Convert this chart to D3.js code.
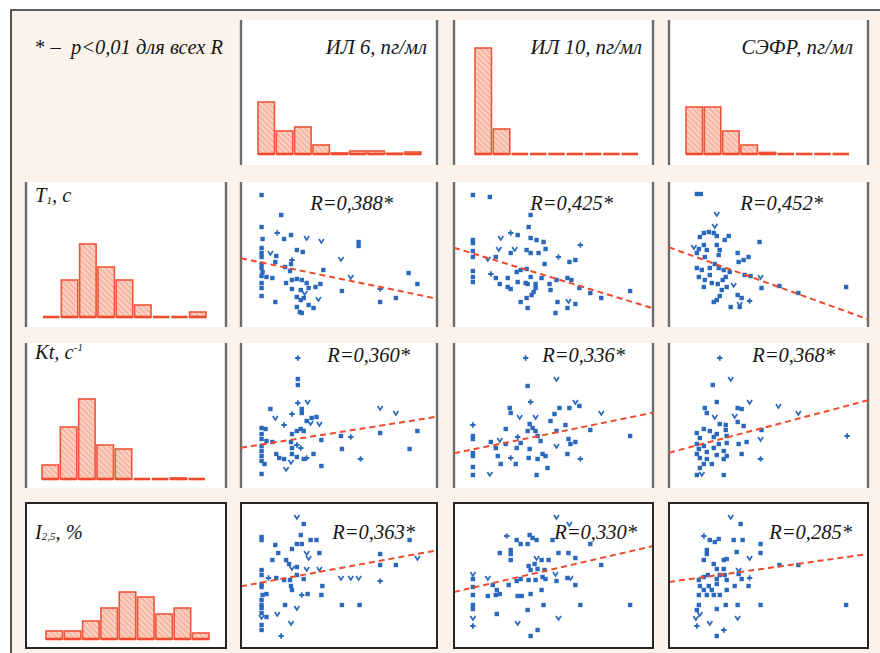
<!DOCTYPE html>
<html><head><meta charset="utf-8">
<script src="https://cdn.jsdelivr.net/npm/d3@7"></script>
<style>html,body{margin:0;background:#fff;overflow:hidden}svg{display:block;overflow:hidden}</style>
</head><body><svg id="c" width="880" height="653"></svg>
<script>
// ---------------- DATA ----------------
const xVarLabels = ["ИЛ 6, пг/мл", "ИЛ 10, пг/мл", "СЭФР, пг/мл"];
const noteLabel = ["* –  ", "p<0,01 для всех R"];
const binIndex = [0, 1, 2, 3, 4, 5, 6, 7, 8];
// histogram frequencies (relative units) per variable
const histIL6  = [26, 11.5, 13.5, 4.5, 0.5, 1.5, 1.5, 0.3, 1];
const histIL10 = [53, 12.5, 0, 0, 0, 0, 0, 0, 0];
const histSEFR = [23.5, 23.5, 11.5, 4.5, 0.8, 0, 0, 0, 0];
const histT1   = [0, 18.5, 36.5, 25, 18.5, 6, 0, 0, 2.5];
const histKt   = [7, 26, 40, 17, 15, 0, 0, 0.5, 0];
const histI25  = [4, 4, 9, 15.5, 23.5, 21, 12.5, 15.5, 3];
const rValues = [["0,388", "0,425", "0,452"], ["0,360", "0,336", "0,368"], ["0,363", "0,330", "0,285"]];
// scatter points [x, y, marker] in relative units (x 0..200, y 0..145)
const ptsT1IL6 = [[21,132],[41,112],[21,100],[37,94,'p'],[44,88],[51,92],[67,89,'v'],[82,86,'v'],[120,85],[120,81],[22,88],[21,79],[21,74],[21,70],[30,74,'v'],[36,71],[57,77],[63,75],[35,65],[52,67,'p'],[51,63],[102,68,'v'],[21,63],[21,59],[22,55],[45,60],[50,56],[84,57],[112,50,'v'],[171,54],[180,43],[21,51],[26,50],[32,49],[46,44],[52,47],[57,48],[62,47],[67,44],[81,43],[21,44],[21,39],[52,38],[61,37],[69,39],[76,40],[65,34,'v'],[103,36],[142,38,'p'],[158,29],[21,31],[35,25],[57,30],[61,27],[64,29],[79,28,'v'],[142,25],[57,20],[69,22],[74,19],[60,15],[62,14]];
const ptsT1IL10 = [[19,132],[36,130],[77,112],[75,100],[19,87],[19,84],[47,89,'v'],[57,94,'p'],[64,92],[77,89],[83,87],[90,85],[45,78,'v'],[61,78,'v'],[57,74],[73,77],[77,74],[85,74],[92,78],[19,76],[19,70],[34,68,'v'],[42,70],[127,82,'p'],[105,70,'p'],[116,65],[122,67],[91,63],[19,56],[19,50],[19,45],[37,53,'p'],[42,49],[46,43],[54,49],[54,40],[57,38],[63,55],[67,57],[73,58],[64,45],[72,44],[77,50],[82,43],[82,39],[88,49],[96,43],[103,47],[114,49],[118,47],[97,37],[126,39],[137,34],[177,36],[148,29],[67,25],[73,29],[78,32],[80,35],[74,19],[104,25],[115,26,'v'],[122,23],[114,19],[102,14],[74,43]];
const ptsT1SEFR = [[28,133],[32,133],[48,113,'v'],[46,101,'v'],[35,94],[40,95],[45,94],[31,90],[48,91],[56,87],[60,91],[91,85],[25,80,'v'],[30,78],[35,82],[38,77],[48,82],[51,77],[28,74],[36,70],[50,72],[69,74],[75,67],[80,70],[70,65],[28,59],[33,57],[41,59],[46,63],[50,59],[30,50],[36,47],[43,44],[49,43],[54,47],[57,50],[61,55],[53,37],[51,31],[48,27],[45,25],[65,42,'v'],[76,52],[82,51],[92,50,'v'],[93,39],[111,41],[130,34],[178,40],[69,32],[73,29],[71,23,'v'],[81,26,'p'],[62,20],[71,20],[58,40],[35,40],[41,52],[55,57]];
const ptsKtIL6 = [[58,130,'p'],[58,109],[58,103],[58,85,'p'],[68,86,'v'],[62,79],[62,75],[30,79],[35,70,'v'],[52,74,'p'],[72,70],[77,71],[67,67],[71,65,'v'],[80,64,'v'],[44,63,'p'],[21,60],[25,59],[57,57],[61,59],[64,57],[52,54],[142,80,'v'],[158,75,'v'],[102,52],[112,51,'p'],[142,55],[180,57],[21,54],[21,49],[26,47],[32,46],[21,42],[21,37],[21,32],[21,27],[24,24],[21,14],[36,34],[39,30],[44,29],[46,19,'v'],[51,46],[52,40],[57,43,'p'],[61,40,'p'],[52,34],[57,31],[64,29],[67,30,'p'],[74,34],[82,48],[82,22],[103,39],[122,29,'p'],[172,39],[51,26,'v']];
const ptsKtIL10 = [[72,130,'p'],[74,102],[103,109,'v'],[77,86,'p'],[56,80],[57,75],[66,71,'v'],[82,71,'v'],[106,80],[116,80],[122,86,'v'],[126,82],[148,75,'v'],[101,74],[97,67],[19,63,'p'],[19,52],[19,49],[19,35],[19,32],[19,21],[19,13],[37,46],[46,48,'v'],[52,59],[42,40],[44,32],[47,24],[36,14,'v'],[64,51,'p'],[63,40],[57,30,'p'],[62,24],[76,64],[79,60],[74,57],[84,52],[82,57],[76,39],[75,30],[84,29],[89,34],[92,32],[87,47],[94,20],[83,13],[103,57],[103,42,'v'],[112,63],[115,49],[117,44],[122,46],[114,34],[127,29,'p'],[137,58],[177,52],[67,45],[52,44]];
const ptsKtSEFR = [[51,130,'p'],[62,109,'v'],[44,103],[48,86],[81,86,'v'],[36,80],[69,80],[73,79],[38,75],[46,71,'v'],[66,72,'v'],[110,82,'v'],[130,75,'v'],[51,64],[57,63],[69,66],[75,62],[35,59],[28,55],[31,50],[41,57],[48,54],[57,58],[58,52],[93,58],[92,49,'v'],[78,46],[70,44],[58,45],[28,44],[30,39],[35,42],[38,36],[45,40],[50,44],[55,37],[48,33],[31,30],[38,29],[55,29],[58,32],[73,34],[92,29,'p'],[31,20],[35,24],[28,13],[33,14,'v'],[55,13],[179,52,'p'],[43,24],[45,51],[28,34]];
const ptsI25IL6 = [[57,131,'v'],[64,124],[21,111],[21,108],[35,103],[61,113],[71,108],[77,108],[57,104],[62,104],[52,99],[38,95],[67,95,'v'],[80,95],[69,90,'v'],[32,88],[46,88],[49,84],[52,80,'v'],[57,81],[67,79,'v'],[80,79,'v'],[21,78],[21,73],[142,94],[142,83],[158,83],[172,108],[180,90,'v'],[28,70,'p'],[36,70],[44,68],[50,68],[57,73],[64,69],[102,70,'v'],[112,70,'v'],[120,70,'v'],[142,67,'p'],[21,64],[21,61],[22,53],[26,54],[51,62],[52,58],[83,62],[62,53,'p'],[68,54],[82,53],[21,43],[21,40],[45,43],[57,40,'v'],[103,43],[121,43],[21,31,'v'],[26,31],[37,34,'v'],[21,23],[21,18],[51,25,'v'],[41,12,'p'],[21,35],[21,48]];
const ptsI25IL10 = [[103,131,'v'],[116,124,'v'],[53,112,'p'],[63,108],[67,104],[74,104],[76,113],[79,110],[83,108],[99,108],[137,104],[46,95],[57,98],[57,94],[57,88],[105,95],[115,95],[122,90],[83,90,'v'],[88,88],[95,88],[148,83],[75,82],[81,84],[84,79],[77,78],[91,78],[19,74,'v'],[19,69],[19,61],[19,53],[19,43],[19,39],[19,30,'v'],[19,22,'p'],[34,70,'v'],[39,63],[43,58],[34,52],[42,53],[46,54],[55,63],[63,67],[67,69],[75,68],[82,68],[89,71],[92,69],[102,74,'v'],[103,67],[114,70],[117,70,'v'],[122,63],[88,58],[77,54],[64,52],[68,52],[43,34],[64,25,'v'],[74,38],[90,43],[127,43],[177,43],[105,30,'v'],[84,18],[77,12]];
const ptsI25SEFR = [[62,131,'v'],[72,124],[35,112,'p'],[41,108],[46,106],[50,109],[65,108],[74,108],[92,104],[38,98],[38,94],[68,96],[92,95],[81,90,'v'],[35,88],[45,84],[55,88],[58,89],[48,79],[70,78,'v'],[111,83],[130,83],[30,68],[35,71],[39,73],[51,73],[56,73],[70,74],[73,69],[81,70,'p'],[31,62],[35,58],[40,62],[43,58],[48,64],[58,68],[58,58],[66,62],[80,62],[30,53],[38,53],[45,53],[51,53],[48,69],[30,43],[28,38],[31,34,'v'],[27,30,'v'],[48,39],[57,43],[69,43],[92,43],[69,30,'v'],[41,25,'v'],[28,22,'p'],[55,18,'p'],[48,12],[178,43],[55,79]];
// regression lines: y at x=0 and at x=200
const fitT1  = [[68.7, 28.3], [79.3, 18.7], [79.7, 7.7]];
const fitKt  = [[40.3, 71.3], [34.7, 75.3], [35.3, 87.7]];
const fitI25 = [[61.7, 97.7], [56, 102], [66, 94]];

// ---------------- LAYOUT ----------------
const colX = [26, 241, 454, 669], colW = [200, 196, 199, 199];
const rowY = [20, 182, 343, 503], rowH = 145;
const histBase = [11, 10, 9, 9];
const histOffTop = [0, 17, 21, 17];
const histOffLeft = [0, 17, 16, 20];
const histSpan = 163;
const rLabelRight = [[44, 40, 45], [27, 28, 33], [22, 16, 16]];
const rLabelBase = [0, 28, 19, 36];
const headRight = [0, 10, 11, 15];
const serif = "'Liberation Serif','Times New Roman',serif";
const ink = "#161616";

const svg = d3.select("#c");
const defs = svg.append("defs");
const pat = defs.append("pattern").attr("id", "hatch").attr("patternUnits", "userSpaceOnUse")
  .attr("width", 4).attr("height", 4).attr("patternTransform", "rotate(-45)");
pat.append("rect").attr("width", 4).attr("height", 4).attr("fill", "#fcd3c5");
pat.append("line").attr("x1", 1).attr("y1", 0).attr("x2", 1).attr("y2", 4).attr("stroke", "#f2a590").attr("stroke-width", 1.3);

svg.append("rect").attr("width", 880).attr("height", 653).attr("fill", "#fff");
svg.append("rect").attr("x", 11).attr("y", 10).attr("width", 869).attr("height", 643).attr("fill", "#fbf3eb");
svg.append("path").attr("d", "M11,653 L11,10 L880,10").attr("fill", "none").attr("stroke", "#2a2a2a").attr("stroke-width", 1.6);

// panels
for (let r = 0; r < 4; r++) for (let c = 0; c < 4; c++) {
  if (r === 0 && c === 0) continue;
  const x = colX[c], y = rowY[r], w = colW[c];
  svg.append("rect").attr("x", x).attr("y", y).attr("width", w).attr("height", rowH).attr("fill", "#fff");
  if (r < 3) {
    svg.append("line").attr("x1", x).attr("x2", x).attr("y1", y).attr("y2", y + rowH).attr("stroke", "#6c6c6c").attr("stroke-width", 2.4);
    svg.append("line").attr("x1", x + w).attr("x2", x + w).attr("y1", y).attr("y2", y + rowH).attr("stroke", "#6c6c6c").attr("stroke-width", 2.4);
  }
}

// histograms
const hScale = d3.scaleLinear().domain([0, 10]).range([0, 20]);
function drawHist(vals, left, base) {
  const xb = d3.scaleBand().domain(binIndex).range([left, left + histSpan]).paddingInner(0.1);
  const g = svg.append("g");
  g.selectAll("rect").data(vals).join("rect")
    .attr("x", (d, i) => xb(i)).attr("width", xb.bandwidth())
    .attr("y", d => base - hScale(d)).attr("height", d => hScale(d))
    .attr("fill", "url(#hatch)").attr("stroke", "#f0553a").attr("stroke-width", 1.6);
  g.selectAll("line").data(vals).join("line")
    .attr("x1", (d, i) => xb(i)).attr("x2", (d, i) => xb(i) + xb.bandwidth())
    .attr("y1", base).attr("y2", base).attr("stroke", "#ef4a2e").attr("stroke-width", 2.6);
}
const topHists = [null, histIL6, histIL10, histSEFR];
for (let c = 1; c < 4; c++) drawHist(topHists[c], colX[c] + histOffTop[c], rowY[0] + rowH - histBase[0]);
const leftHists = [null, histT1, histKt, histI25];
for (let r = 1; r < 4; r++) drawHist(leftHists[r], colX[0] + histOffLeft[r], rowY[r] + rowH - histBase[r]);

// scatter panels
const scatter = [[ptsT1IL6, ptsT1IL10, ptsT1SEFR], [ptsKtIL6, ptsKtIL10, ptsKtSEFR], [ptsI25IL6, ptsI25IL10, ptsI25SEFR]];
const fits = [fitT1, fitKt, fitI25];
const blue = "#2a68bd";
for (let r = 1; r < 4; r++) for (let c = 1; c < 4; c++) {
  const x = colX[c], y = rowY[r], w = colW[c];
  const xs = d3.scaleLinear().domain([0, 200]).range([x, x + w]);
  const ys = d3.scaleLinear().domain([0, 145]).range([y + rowH, y]);
  const clipId = "clip" + r + c;
  defs.append("clipPath").attr("id", clipId).append("rect").attr("x", x).attr("y", y).attr("width", w).attr("height", rowH);
  const g = svg.append("g").attr("clip-path", `url(#${clipId})`);
  const pts = scatter[r - 1][c - 1];
  g.selectAll("rect.s").data(pts.filter(d => !d[2])).join("rect").attr("class", "s")
    .attr("x", d => xs(d[0]) - 2.2).attr("y", d => ys(d[1]) - 2.2).attr("width", 4.4).attr("height", 4.4).attr("fill", blue);
  g.selectAll("path.p").data(pts.filter(d => d[2] === 'p')).join("path").attr("class", "p")
    .attr("d", d => `M${xs(d[0]) - 2.7},${ys(d[1])}h5.4M${xs(d[0])},${ys(d[1]) - 2.7}v5.4`)
    .attr("stroke", blue).attr("stroke-width", 1.8).attr("fill", "none");
  g.selectAll("path.v").data(pts.filter(d => d[2] === 'v')).join("path").attr("class", "v")
    .attr("d", d => `M${xs(d[0]) - 2.5},${ys(d[1]) - 2}L${xs(d[0])},${ys(d[1]) + 2}L${xs(d[0]) + 2.5},${ys(d[1]) - 2}`)
    .attr("stroke", blue).attr("stroke-width", 1.7).attr("fill", "none");
  const f = fits[r - 1][c - 1];
  g.append("line").attr("x1", xs(0)).attr("y1", ys(f[0])).attr("x2", xs(200)).attr("y2", ys(f[1]))
    .attr("stroke", "#f04a2a").attr("stroke-width", 2).attr("stroke-dasharray", "6,4");
  svg.append("text").attr("x", x + w - rLabelRight[r - 1][c - 1]).attr("y", y + rLabelBase[r])
    .attr("text-anchor", "end").attr("font-family", serif).attr("font-style", "italic")
    .attr("font-size", 20.5).attr("fill", ink).text("R=" + rValues[r - 1][c - 1] + "*");
}

// row 3 borders (on top)
for (let c = 0; c < 4; c++) {
  svg.append("rect").attr("x", colX[c]).attr("y", rowY[3]).attr("width", colW[c]).attr("height", rowH)
    .attr("fill", "none").attr("stroke", "#262626").attr("stroke-width", 2);
}

// headers
const note = svg.append("text").attr("x", 35).attr("y", 54).attr("font-family", serif).attr("font-size", 20.5).attr("fill", ink);
note.append("tspan").style("white-space", "pre").text(noteLabel[0]);
note.append("tspan").attr("font-style", "italic").text(noteLabel[1]);
for (let c = 1; c < 4; c++) {
  svg.append("text").attr("x", colX[c] + colW[c] - headRight[c]).attr("y", 54)
    .attr("text-anchor", "end").attr("font-family", serif).attr("font-style", "italic")
    .attr("font-size", 20.7).attr("fill", ink).text(xVarLabels[c - 1]);
}
// row labels
function rowLabel(r, dy) {
  return svg.append("text").attr("x", colX[0] + 9).attr("y", rowY[r] + dy)
    .attr("font-family", serif).attr("font-style", "italic").attr("font-size", 20.5).attr("fill", ink);
}
let t = rowLabel(1, 20);
t.append("tspan").text("T");
t.append("tspan").attr("font-size", 11).attr("dy", 2).text("1");
t.append("tspan").attr("dy", -2).text(", c");
t = rowLabel(2, 16);
t.append("tspan").text("Kt, c");
t.append("tspan").attr("font-size", 11).attr("dy", -8).text("-1");
t = rowLabel(3, 36);
t.append("tspan").text("I");
t.append("tspan").attr("font-size", 11).attr("dy", 1).text("2,5");
t.append("tspan").attr("dy", -1).text(", %");
</script></body></html>
